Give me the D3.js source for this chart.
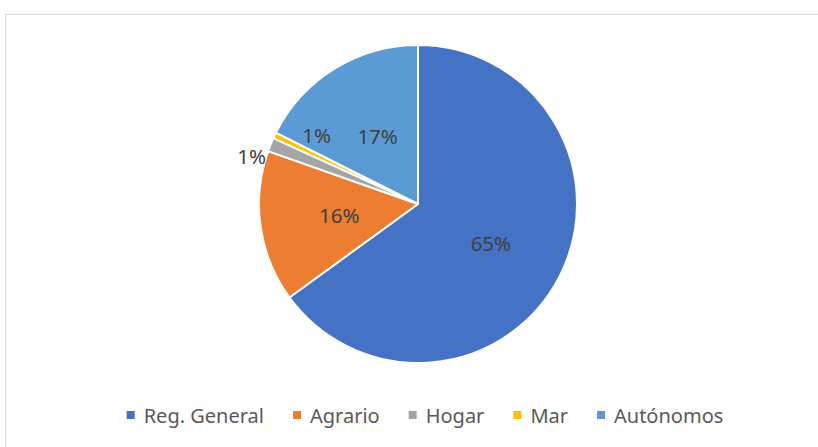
<!DOCTYPE html>
<html><head><meta charset="utf-8">
<script src="https://cdn.jsdelivr.net/npm/d3@7"></script>
<style>
html,body{margin:0;padding:0;background:#fff;}
text{font-family:"Noto Sans","Open Sans",sans-serif;}
</style></head>
<body>
<svg id="chart" width="818" height="447"></svg>
<script>
const categories = ["Reg. General", "Agrario", "Hogar", "Mar", "Autónomos"];
const values = [65.0, 15.4, 1.4, 0.6, 17.6];
const labels = ["65%", "16%", "1%", "1%", "17%"];
const colors = ["#4472c4", "#ed7d31", "#a5a5a5", "#ffc000", "#5b9bd5"];

const W = 818, H = 447;
const svg = d3.select("#chart");
svg.append("rect").attr("x",5.5).attr("y",14.5).attr("width",W).attr("height",H)
  .attr("fill","#fff").attr("stroke","#d9d9d9").attr("stroke-width",1);

const cx = 418, cy = 204, R = 159;
const data = categories.map((c,i)=>({name:c, value:values[i], label:labels[i], color:colors[i]}));
const pie = d3.pie().value(d=>d.value).sort(null);
const arcs = pie(data);
const arc = d3.arc().innerRadius(0).outerRadius(R);
const g = svg.append("g").attr("transform",`translate(${cx},${cy})`);
g.selectAll("path").data(arcs).join("path")
  .attr("d",arc).attr("fill",d=>d.data.color)
  .attr("stroke","#fff").attr("stroke-width",2).attr("stroke-linejoin","round");

// label placement: radius factor and angle offset (radians) per slice
const labelR = [0.52, 0.5, 1.09, 0.77, 0.5];
const labelDA = [0.02, 0.0, -0.1, 0.15, 0.02];
g.selectAll("text.lbl").data(arcs).join("text").attr("class","lbl")
  .each(function(d,i){
    const a = (d.startAngle+d.endAngle)/2 + labelDA[i];
    const p = d3.pointRadial(a, R*labelR[i]);
    d3.select(this).attr("x",p[0]).attr("y",p[1]);
  })
  .attr("text-anchor","middle").attr("dominant-baseline","central")
  .attr("font-size",20.5).attr("fill","#404040").text(d=>d.data.label);

// legend
const lg = svg.append("g");
const items = lg.selectAll("g").data(data).join("g");
items.append("rect").attr("width",8).attr("height",8).attr("y",-4).attr("fill",d=>d.color);
items.append("text").attr("x",17).attr("dominant-baseline","central")
  .attr("font-size",20).attr("fill","#595959").text(d=>d.name);
let x = 0;
const gap = 29;
items.each(function(){
  const t = d3.select(this).select("text").node().getComputedTextLength();
  d3.select(this).attr("transform",`translate(${x},0)`);
  x += 17 + t + gap;
});
const totalW = x - gap;
lg.attr("transform",`translate(${425 - totalW/2},415)`);
</script>
</body></html>
